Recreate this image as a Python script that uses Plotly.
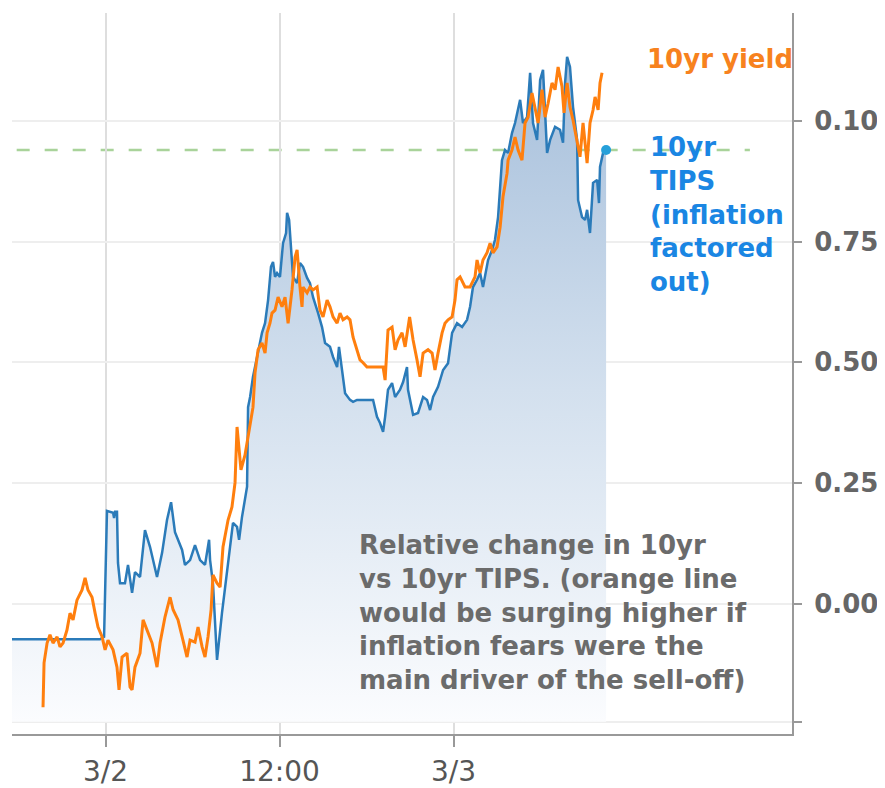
import pandas as pd
import plotly.graph_objects as go

BASE_DATE = "2021-03-02"

# 10yr TIPS (hours from 3/2 00:00, relative change)
tips_hours = [-6.52, -0.38, -0.10, 0.10, 0.52, 0.59, 0.66, 0.79, 0.86, 1.00, 1.34, 1.55, 1.83, 2.03, 2.38, 2.72,
              3.07, 3.55, 3.90, 4.24, 4.52, 4.79, 5.28, 5.48, 5.83, 6.17, 6.52, 6.86, 7.14, 7.21, 7.41, 7.69,
              8.03, 8.38, 8.79, 9.07, 9.21, 9.41, 9.76, 9.83, 9.97, 10.17, 10.45, 10.79, 11.0, 11.21, 11.41,
              11.55, 11.69, 11.83, 12.03, 12.24, 12.45, 12.52, 12.66, 12.79, 12.93, 13.21, 13.41, 13.62, 13.90,
              14.10, 14.31, 14.66, 14.93, 15.14, 15.48, 15.69, 15.97, 16.10, 16.31, 16.52, 16.86, 17.07, 17.34,
              18.45, 18.72, 18.93, 19.14, 19.28, 19.48, 19.76, 19.97, 20.31, 20.52, 20.79, 20.86, 21.21, 21.55,
              21.90, 22.17, 22.38, 22.59, 22.93, 23.28, 23.62, 23.90, 24.24, 24.59, 24.93, 25.14, 25.34, 25.62,
              25.83, 26.03, 26.38, 26.66, 26.86, 27.07, 27.34, 27.55, 27.76, 28.03, 28.24, 28.59, 28.79, 29.07,
              29.28, 29.48, 29.76, 29.97, 30.17, 30.45, 30.66, 31.0, 31.34, 31.55, 31.69, 31.83, 32.03, 32.24,
              32.52, 32.59, 32.86, 33.07, 33.21, 33.41, 33.62, 33.90, 34.03, 34.10, 34.31, 34.52]
tips_vals = [-0.074, -0.074, -0.069, 0.192, 0.188, 0.177, 0.190, 0.190, 0.084, 0.042, 0.042, 0.080, 0.022, 0.065,
             0.055, 0.152, 0.117, 0.055, 0.105, 0.173, 0.210, 0.148, 0.111, 0.080, 0.090, 0.121, 0.090, 0.080,
             0.132, 0.090, 0.042, -0.117, -0.020, 0.069, 0.167, 0.159, 0.132, 0.179, 0.242, 0.407, 0.428, 0.470,
             0.511, 0.561, 0.581, 0.629, 0.698, 0.708, 0.677, 0.685, 0.677, 0.747, 0.768, 0.810, 0.795, 0.733,
             0.677, 0.664, 0.706, 0.698, 0.675, 0.664, 0.635, 0.602, 0.573, 0.540, 0.532, 0.511, 0.490, 0.532,
             0.478, 0.436, 0.422, 0.418, 0.422, 0.422, 0.387, 0.374, 0.356, 0.387, 0.443, 0.457, 0.428, 0.443,
             0.459, 0.490, 0.443, 0.391, 0.395, 0.428, 0.422, 0.401, 0.428, 0.449, 0.484, 0.498, 0.561, 0.581,
             0.573, 0.588, 0.615, 0.656, 0.671, 0.685, 0.656, 0.712, 0.733, 0.754, 0.801, 0.919, 0.940, 0.934,
             0.975, 0.996, 1.044, 0.996, 1.008, 1.100, 0.996, 0.961, 1.085, 1.106, 0.934, 0.961, 0.988, 0.982,
             0.955, 1.079, 1.133, 1.112, 1.029, 0.961, 0.836, 0.801, 0.795, 0.816, 0.768, 0.872, 0.878, 0.830,
             0.905, 0.934, 0.940]

# 10yr yield
yield_hours = [-4.31, -4.24, -4.03, -3.83, -3.62, -3.34, -3.14, -2.93, -2.66, -2.45, -2.24, -1.97, -1.62, -1.41,
               -1.21, -0.93, -0.72, -0.52, -0.24, -0.03, 0.17, 0.52, 0.79, 0.93, 1.14, 1.48, 1.69, 1.83, 2.03,
               2.38, 2.59, 2.86, 3.21, 3.55, 3.76, 4.10, 4.45, 4.66, 5.0, 5.34, 5.62, 5.83, 6.17, 6.38, 6.66,
               6.86, 7.07, 7.28, 7.41, 7.69, 7.90, 8.10, 8.45, 8.72, 8.93, 9.07, 9.28, 9.34, 9.62, 9.97, 10.17,
               10.31, 10.52, 10.79, 11.0, 11.14, 11.34, 11.48, 11.69, 11.90, 12.17, 12.38, 12.59, 12.86, 13.07,
               13.21, 13.28, 13.41, 13.55, 13.62, 13.90, 14.10, 14.31, 14.59, 14.79, 15.0, 15.28, 15.48, 15.69,
               15.97, 16.17, 16.38, 16.66, 16.86, 17.07, 17.34, 17.55, 17.76, 18.03, 19.14, 19.28, 19.48, 19.76,
               19.97, 20.17, 20.45, 20.66, 20.97, 21.21, 21.48, 21.69, 21.90, 22.24, 22.52, 22.72, 22.93, 23.21,
               23.41, 23.62, 23.90, 24.10, 24.24, 24.45, 24.79, 25.14, 25.48, 25.62, 25.83, 26.03, 26.31, 26.52,
               26.72, 27.0, 27.21, 27.41, 27.69, 27.76, 28.03, 28.24, 28.45, 28.72, 28.93, 29.14, 29.41, 29.62,
               29.83, 30.10, 30.31, 30.52, 30.79, 31.0, 31.21, 31.48, 31.62, 31.83, 32.03, 32.24, 32.52, 32.72,
               32.93, 33.21, 33.41, 33.62, 33.76, 33.97, 34.10, 34.24]
yield_vals = [-0.215, -0.123, -0.082, -0.065, -0.082, -0.069, -0.090, -0.082, -0.055, -0.020, -0.034, 0.007,
              0.028, 0.053, 0.028, 0.013, -0.020, -0.049, -0.069, -0.096, -0.076, -0.096, -0.132, -0.179, -0.111,
              -0.103, -0.173, -0.179, -0.132, -0.103, -0.034, -0.055, -0.082, -0.132, -0.082, -0.028, 0.013,
              -0.013, -0.034, -0.076, -0.111, -0.076, -0.080, -0.049, -0.090, -0.111, -0.069, -0.013, 0.059,
              0.042, 0.034, 0.117, 0.173, 0.200, 0.250, 0.366, 0.297, 0.277, 0.308, 0.366, 0.407, 0.478, 0.526,
              0.540, 0.519, 0.561, 0.581, 0.602, 0.608, 0.635, 0.615, 0.635, 0.581, 0.650, 0.718, 0.733, 0.698,
              0.656, 0.615, 0.656, 0.644, 0.656, 0.650, 0.656, 0.608, 0.594, 0.629, 0.615, 0.594, 0.581, 0.602,
              0.588, 0.594, 0.588, 0.552, 0.526, 0.505, 0.499, 0.490, 0.490, 0.463, 0.567, 0.573, 0.526, 0.546,
              0.561, 0.532, 0.594, 0.546, 0.505, 0.470, 0.519, 0.526, 0.519, 0.484, 0.519, 0.561, 0.581, 0.588,
              0.594, 0.629, 0.671, 0.677, 0.656, 0.656, 0.677, 0.712, 0.685, 0.712, 0.727, 0.747, 0.727, 0.739,
              0.780, 0.843, 0.892, 0.919, 0.940, 0.967, 0.940, 0.919, 0.996, 1.008, 1.058, 1.029, 0.996, 1.065,
              1.008, 1.037, 1.079, 1.065, 1.112, 1.071, 1.017, 1.079, 1.029, 1.002, 0.961, 0.926, 0.996, 0.913,
              0.996, 1.023, 1.050, 1.023, 1.079, 1.100]

tick_hours = [0, 12, 24]
tick_labels = ["3/2", "12:00", "3/3"]
y_tickvals = [-0.245, 0.0, 0.25, 0.50, 0.75, 1.00]
y_ticktext = ["", "0.00", "0.25", "0.50", "0.75", "0.10"]
FILL_BASE = -0.245
X_RANGE_HOURS = [-6.45, 47.34]
Y_RANGE = [-0.2705, 1.224]

base = pd.Timestamp(BASE_DATE)
to_time = lambda hrs: [base + pd.Timedelta(hours=h) for h in hrs]
tips_t = to_time(tips_hours)
yield_t = to_time(yield_hours)

fig = go.Figure()
fig.add_trace(go.Scatter(x=[tips_t[0], tips_t[-1]], y=[FILL_BASE, FILL_BASE], mode="lines",
                         line=dict(width=0, color="rgba(0,0,0,0)"), hoverinfo="skip", showlegend=False))
fig.add_trace(go.Scatter(x=tips_t, y=tips_vals, mode="lines", fill="tonexty",
                         fillgradient=dict(type="vertical", start=FILL_BASE, stop=1.13,
                                           colorscale=[[0, "#fbfcfe"], [0.5, "#d3e0ee"], [1, "#a6bfdb"]]),
                         line=dict(color="#2b7bb9", width=2.5), showlegend=False))
fig.add_trace(go.Scatter(x=yield_t, y=yield_vals, mode="lines",
                         line=dict(color="#ff7f0e", width=3), showlegend=False))
fig.add_trace(go.Scatter(x=[tips_t[-1]], y=[tips_vals[-1]], mode="markers",
                         marker=dict(color="#26a0da", size=10), showlegend=False))

fig.add_shape(type="line", xref="paper", yref="y", x0=0.006, x1=0.946, y0=tips_vals[-1], y1=tips_vals[-1],
              line=dict(color="#a9d39a", width=2.5, dash="13px,15px"), layer="below")

bold = dict(family="DejaVu Sans", size=26, weight="bold")
fig.add_annotation(xref="paper", yref="paper", x=0.8115, y=0.936, xanchor="left", yanchor="middle",
                   text="10yr yield", showarrow=False, font=dict(**bold, color="#f7821e"))
fig.add_annotation(xref="paper", yref="paper", x=0.815, y=0.72, xanchor="left", yanchor="middle", align="left",
                   text="10yr<br>TIPS<br>(inflation<br>factored<br>out)", showarrow=False,
                   font=dict(**bold, color="#1a86e3"))
fig.add_annotation(xref="paper", yref="paper", x=0.4423, y=0.168, xanchor="left", yanchor="middle", align="left",
                   text="Relative change in 10yr<br>vs 10yr TIPS. (orange line<br>would be surging higher if<br>"
                        "inflation fears were the<br>main driver of the sell-off)",
                   showarrow=False, font=dict(**bold, color="#6b6b6b"))

# page body has an 8px default margin, so the figure is sized to fit the 885x788 window
fig.update_layout(
    width=877, height=780, margin=dict(l=4, r=93, t=5, b=54, autoexpand=False),
    paper_bgcolor="white", plot_bgcolor="white", showlegend=False,
    xaxis=dict(range=to_time(X_RANGE_HOURS), tickvals=to_time(tick_hours), ticktext=tick_labels,
               automargin=False,
               showgrid=True, gridcolor="#dedede", gridwidth=2, zeroline=False,
               showline=True, linecolor="#999999", linewidth=2,
               ticks="outside", ticklen=11, tickwidth=2, tickcolor="#999999",
               tickfont=dict(family="DejaVu Sans", size=28, color="#555555")),
    yaxis=dict(side="right", range=Y_RANGE, tickvals=y_tickvals, ticktext=y_ticktext,
               automargin=False,
               showgrid=True, gridcolor="#eeeeee", gridwidth=2, zeroline=False,
               showline=True, linecolor="#999999", linewidth=2,
               ticks="outside", ticklen=8, tickwidth=2, tickcolor="#999999", ticklabelstandoff=7,
               tickfont=dict(family="DejaVu Sans", size=26, color="#666666", weight="bold")),
)

fig.write_html("out.html")
